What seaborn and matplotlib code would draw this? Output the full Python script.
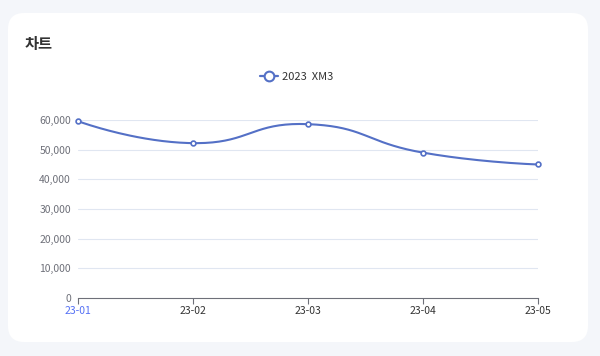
import matplotlib
matplotlib.use("Agg")
import matplotlib.pyplot as plt
import numpy as np
import pandas as pd
import seaborn as sns
from matplotlib.patches import FancyBboxPatch
from matplotlib.lines import Line2D

months = ["23-01", "23-02", "23-03", "23-04", "23-05"]
sales = [59600, 52200, 58600, 49000, 45000]
series_name = "2023  XM3"
y_ticks = [0, 10000, 20000, 30000, 40000, 50000, 60000]
title = "차트"

LINE = "#5470c6"
W, H = 600, 356


def smooth_curve(px, py, smooth=0.5, n=40):
    # echarts-style cubic bezier smoothing, in pixel space
    pts = list(zip(px, py))
    cps = []
    for i, (x, y) in enumerate(pts):
        if i == 0 or i == len(pts) - 1:
            cps.append(((x, y), (x, y)))
            continue
        x0, y0 = pts[i - 1]
        x1, y1 = pts[i + 1]
        vx, vy = x1 - x0, y1 - y0
        l0 = np.hypot(x - x0, y - y0)
        l1 = np.hypot(x1 - x, y1 - y)
        r = l1 / (l0 + l1)
        cin = (x - vx * smooth * (1 - r), y - vy * smooth * (1 - r))
        cout = (x + vx * smooth * r, y + vy * smooth * r)
        cps.append((cin, cout))
    xs, ys = [], []
    t = np.linspace(0, 1, n)
    for i in range(len(pts) - 1):
        p0 = np.array(pts[i])
        p1 = np.array(cps[i][1])
        p2 = np.array(cps[i + 1][0])
        p3 = np.array(pts[i + 1])
        seg = ((1 - t) ** 3)[:, None] * p0 + (3 * (1 - t) ** 2 * t)[:, None] * p1 \
            + (3 * (1 - t) * t ** 2)[:, None] * p2 + (t ** 3)[:, None] * p3
        xs.extend(seg[:, 0])
        ys.extend(seg[:, 1])
    return np.array(xs), np.array(ys)


sns.set_theme(style="white")
plt.rcParams["font.family"] = ["Noto Sans CJK KR", "DejaVu Sans"]

fig = plt.figure(figsize=(W / 100, H / 100), dpi=100)
fig.patch.set_facecolor("#f4f6fa")

card = FancyBboxPatch((8 / W, (H - 342) / H), 580 / W, 329 / H,
                      boxstyle="round,pad=0,rounding_size=0.027",
                      transform=fig.transFigure, facecolor="white",
                      edgecolor="none", mutation_aspect=W / H, zorder=-5)
fig.patches.append(card)

fig.text(25 / W, 1 - 44 / H, title, fontsize=11, fontweight="bold",
         color="#333333", va="center", ha="left")

ax = fig.add_axes([78 / W, 58 / H, 460 / W, 178 / H])
ax.set_facecolor("none")
ax.set_zorder(2)

df = pd.DataFrame({"month": months, "sales": sales})
df["pos"] = np.arange(len(df))

# smooth line, built in pixel space then mapped back to data units
px = df["pos"].to_numpy() * 115.0
py = df["sales"].to_numpy() * 178.0 / 60000
cx, cy = smooth_curve(px, py)
curve = pd.DataFrame({"pos": cx / 115.0, "sales": cy * 60000 / 178.0})
sns.lineplot(data=curve, x="pos", y="sales", ax=ax, color=LINE, linewidth=1.5,
             sort=False, estimator=None, zorder=3)
sns.scatterplot(data=df, x="pos", y="sales", ax=ax, s=12, color="white",
                edgecolor=LINE, linewidth=1.2, zorder=4, clip_on=False)

ax.set_xlim(0, len(months) - 1)
ax.set_ylim(0, 60000)
ax.set_yticks(y_ticks)
ax.set_yticklabels([f"{v:,}" for v in y_ticks])
ax.set_xticks(df["pos"])
ax.set_xticklabels(months)
ax.set_xlabel("")
ax.set_ylabel("")

for v in y_ticks[1:]:
    ax.axhline(v, color="#e0e6f1", linewidth=0.8, zorder=1)

for s in ["top", "right", "left"]:
    ax.spines[s].set_visible(False)
ax.spines["bottom"].set_color("#6e7079")
ax.spines["bottom"].set_linewidth(0.8)
ax.tick_params(axis="x", bottom=True, length=4, width=0.8, color="#6e7079",
               labelsize=7.5, labelcolor="#333333", pad=2)
ax.tick_params(axis="y", left=False, length=0, labelsize=7.5,
               labelcolor="#6e7079", pad=5)
ax.get_xticklabels()[0].set_color("#5470f5")

handle = Line2D([], [], color=LINE, linewidth=1.6, marker="o", markersize=7,
                markerfacecolor="white", markeredgecolor=LINE, markeredgewidth=1.5)
fig.legend([handle], [series_name], loc="center", bbox_to_anchor=(297 / W, 1 - 77 / H),
           frameon=False, fontsize=8, handlelength=1.6, handletextpad=0.4,
           labelcolor="#333333")

fig.savefig("out.png", dpi=100, facecolor=fig.get_facecolor())
